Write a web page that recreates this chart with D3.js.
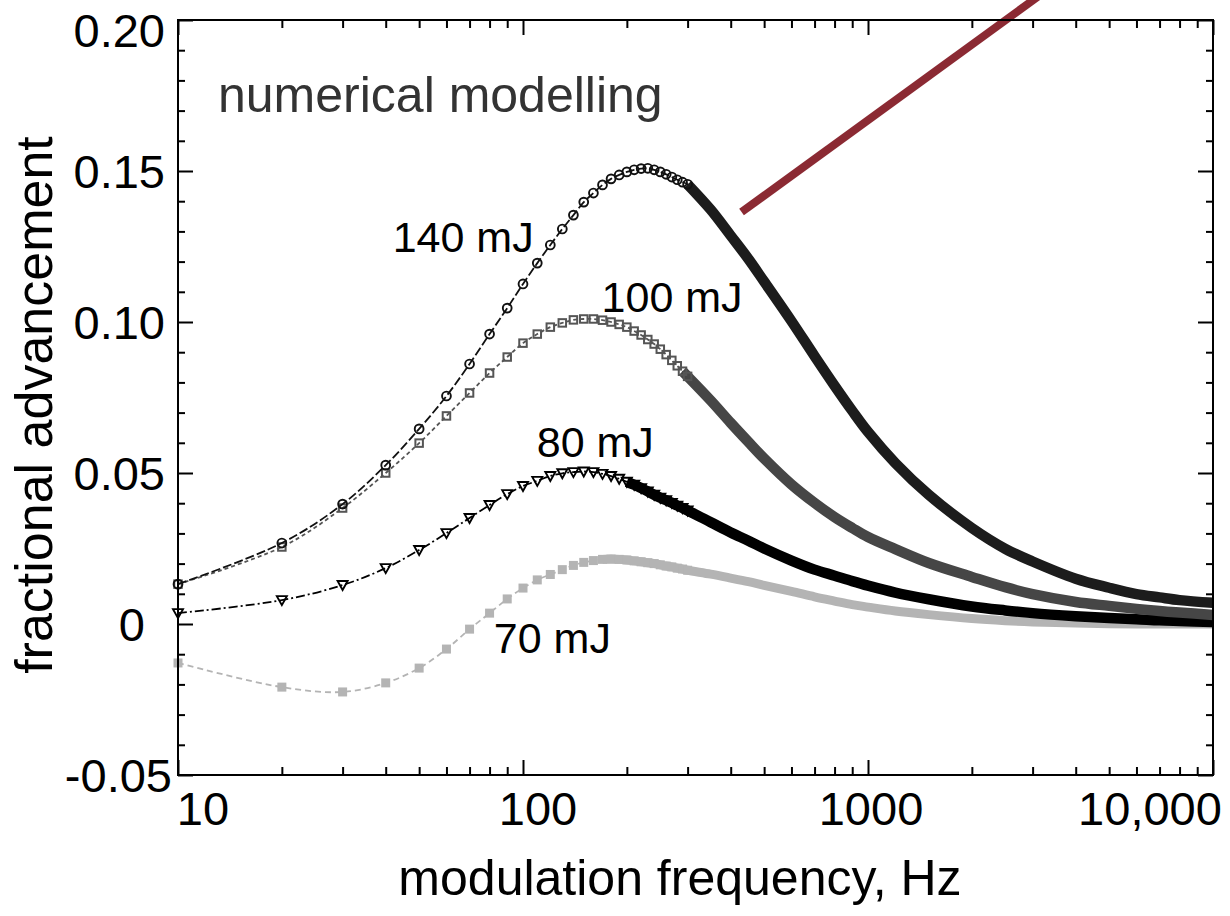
<!DOCTYPE html>
<html>
<head>
<meta charset="utf-8">
<script src="https://cdn.jsdelivr.net/npm/d3@7"></script>
<style>
  body { margin: 0; background: #fff; }
  text { font-family: "Liberation Sans", Arial, Helvetica, sans-serif; }
</style>
</head>
<body>
<div id="svg_placer"></div>
<script>
var
width = 1230,
height = 916,
left = 178, right = 1213,
top_ = 20, bottom = 775
;

// modulation frequency, Hz
var freqs = [10,20,30,40,50,60,70,80,90,100,
  110,120,130,140,150,160,170,180,190,200,
  210,220,230,240,250,260,270,280,290,300,
  350,400,450,500,600,700,800,900,1000,1200,
  1500,2000,2500,3000,4000,5000,6000,7000,8000,10000];

// fractional advancement, one list per pulse energy
var mj140 = [0.0132,0.0268,0.0397,0.0526,0.0646,0.0755,0.0861,0.0960,0.1046,0.1126,
  0.1195,0.1255,0.1308,0.1354,0.1397,0.1427,0.1454,0.1474,0.1487,0.1497,
  0.1504,0.1508,0.1509,0.1504,0.1497,0.1489,0.1480,0.1471,0.1463,0.1456,
  0.1372,0.1286,0.1209,0.1134,0.1003,0.0887,0.0789,0.0706,0.0636,0.0533,
  0.0428,0.0318,0.0249,0.0207,0.0150,0.0120,0.0099,0.0088,0.0079,0.0070];

var mj100 = [0.0132,0.0255,0.0384,0.0500,0.0599,0.0689,0.0765,0.0831,0.0884,0.0930,
  0.0960,0.0983,0.0997,0.1007,0.1010,0.1010,0.1006,0.1000,0.0992,0.0983,
  0.0970,0.0957,0.0942,0.0927,0.0910,0.0892,0.0873,0.0855,0.0837,0.0820,
  0.0740,0.0666,0.0603,0.0548,0.0462,0.0401,0.0354,0.0318,0.0288,0.0248,
  0.0202,0.0156,0.0122,0.0099,0.0073,0.0060,0.0050,0.0043,0.0038,0.0030];

var mj80 = [0.0036,0.0079,0.0129,0.0185,0.0245,0.0301,0.0351,0.0394,0.0430,0.0457,
  0.0474,0.0490,0.0499,0.0503,0.0505,0.0503,0.0497,0.0490,0.0481,0.0471,
  0.0461,0.0450,0.0439,0.0428,0.0418,0.0410,0.0401,0.0392,0.0384,0.0376,
  0.0337,0.0303,0.0276,0.0250,0.0210,0.0180,0.0160,0.0142,0.0127,0.0104,
  0.0082,0.0058,0.0045,0.0036,0.0026,0.0020,0.0016,0.0012,0.0010,0.0007];

var mj70 = [-0.0129,-0.0209,-0.0225,-0.0195,-0.0146,-0.0083,-0.0017,0.0036,0.0083,0.0119,
  0.0146,0.0164,0.0180,0.0194,0.0204,0.0210,0.0214,0.0215,0.0214,0.0212,
  0.0209,0.0206,0.0203,0.0200,0.0196,0.0192,0.0189,0.0185,0.0182,0.0178,
  0.0165,0.0152,0.0140,0.0128,0.0108,0.0090,0.0076,0.0064,0.0056,0.0043,
  0.0031,0.0018,0.0011,0.0007,0.0003,0.0001,0.0000,0.0000,0.0000,0.0000];

var seriesNames = ['70 mJ','80 mJ','100 mJ','140 mJ'];
var yTickLabels = ['-0.05','0','0.05','0.10','0.15','0.20'];
var xTickLabels = ['10','100','1000','10,000'];

// label anchors in data space [freq, value]
var labelAt = {'140 mJ':[41.9,0.1232], '100 mJ':[169,0.1033], '80 mJ':[109.6,0.0553], '70 mJ':[82.3,-0.0096]};
var noteAt = [13.06,0.1695];
var pointerLine = [[430,0.1364],[3300,0.2099]];

var styles = {
  '140 mJ': {vals: mj140, color:'#111', band:'#1c1c1c', dash:'9,3', marker:'circle', bandFrom:300},
  '100 mJ': {vals: mj100, color:'#555', band:'#464646', dash:'4,3', marker:'square', bandFrom:290},
  '80 mJ':  {vals: mj80,  color:'#000', band:'#000',    dash:'9,3,2,3', marker:'triangle', bandFrom:200},
  '70 mJ':  {vals: mj70,  color:'#b4b4b4', band:'#b4b4b4', dash:'6,4', marker:'fsquare', bandFrom:170}
};

var x = d3.scaleLog().domain([10,10000]).range([left,right]);
var y = d3.scaleLinear().domain([-0.05,0.20]).range([bottom,top_]);

var svg = d3.select('#svg_placer').append('svg').attr('width',width).attr('height',height);

var line = d3.line()
    .x(function(d){return x(d[0]);})
    .y(function(d){return y(d[1]);})
    .curve(d3.curveCatmullRom.alpha(0.5));

var plot = svg.append('g');

seriesNames.forEach(function(name){
    var s = styles[name];
    var pts = freqs.map(function(f,i){return [f, s.vals[i]];});

    plot.append('path').datum(pts)
	.attr('d',line)
	.attr('fill','none')
	.attr('stroke',s.color)
	.attr('stroke-width',1.8)
	.attr('stroke-dasharray',s.dash);

    plot.append('path').datum(pts.filter(function(p){return p[0] >= s.bandFrom;}))
	.attr('d',line)
	.attr('fill','none')
	.attr('stroke',s.band)
	.attr('stroke-width',name == '70 mJ' ? 9 : 10.5);

    var g = plot.append('g');
    var mk = pts.filter(function(p){return p[0] <= 300;});
    if (s.marker == 'circle'){
	g.selectAll('circle').data(mk).enter().append('circle')
	    .attr('cx',function(d){return x(d[0]);})
	    .attr('cy',function(d){return y(d[1]);})
	    .attr('r',4.4)
	    .attr('fill','none').attr('stroke',s.color).attr('stroke-width',1.9);
    }
    else if (s.marker == 'square' || s.marker == 'fsquare'){
	var sz = s.marker == 'square' ? 7.5 : 9;
	g.selectAll('rect').data(mk).enter().append('rect')
	    .attr('x',function(d){return x(d[0])-sz/2;})
	    .attr('y',function(d){return y(d[1])-sz/2;})
	    .attr('width',sz).attr('height',sz)
	    .attr('fill',s.marker == 'fsquare' ? s.color : 'none')
	    .attr('stroke',s.marker == 'fsquare' ? 'none' : s.color)
	    .attr('stroke-width',2);
    }
    else {
	g.selectAll('path').data(mk).enter().append('path')
	    .attr('d',function(d){
		var cx = x(d[0]), cy = y(d[1]);
		return 'M'+(cx-5)+','+(cy-4)+'L'+(cx+5)+','+(cy-4)+'L'+cx+','+(cy+5)+'Z';
	    })
	    .attr('fill','none').attr('stroke',s.color).attr('stroke-width',1.9);
    }
});

// pointer line to the inset (runs past the frame)
svg.append('line')
    .attr('x1',x(pointerLine[0][0])).attr('y1',y(pointerLine[0][1]))
    .attr('x2',x(pointerLine[1][0])).attr('y2',y(pointerLine[1][1]))
    .attr('stroke','#8b2a33').attr('stroke-width',8);

// axes: ticks point inward on all four sides
var minorX = x.ticks().filter(function(t){return Math.abs(Math.log10(t) % 1) > 1e-6;});
var majorX = [10,100,1000,10000];
var majorY = d3.range(-0.05,0.2001,0.05);
var minorY = d3.range(-0.04,0.2,0.01).filter(function(v){return Math.abs(Math.round(v*100) % 5) != 0;});

function ax(gen, vals, size, tr){
    var a = svg.append('g').attr('transform',tr)
	.call(gen.tickValues(vals).tickSize(size).tickSizeOuter(0).tickFormat(''));
    a.select('.domain').remove();
    a.selectAll('line').attr('stroke','#000').attr('stroke-width',2);
}
ax(d3.axisBottom(x), minorX, -8, 'translate(0,'+bottom+')');
ax(d3.axisBottom(x), majorX, -15, 'translate(0,'+bottom+')');
ax(d3.axisTop(x), minorX, -8, 'translate(0,'+top_+')');
ax(d3.axisTop(x), majorX, -15, 'translate(0,'+top_+')');
ax(d3.axisLeft(y), minorY, -7, 'translate('+left+',0)');
ax(d3.axisLeft(y), majorY, -15, 'translate('+left+',0)');
ax(d3.axisRight(y), minorY, -7, 'translate('+right+',0)');
ax(d3.axisRight(y), majorY, -15, 'translate('+right+',0)');

svg.append('rect')
    .attr('x',left).attr('y',top_).attr('width',right-left).attr('height',bottom-top_)
    .attr('fill','none').attr('stroke','#000').attr('stroke-width',2);

// tick labels
var yShiftX = {'0':-20, '-0.05':7};
var yShiftY = {'0.20':10};
svg.append('g').selectAll('text').data(majorY).enter().append('text')
    .attr('x',function(d,i){return 165 + (yShiftX[yTickLabels[i]] || 0);})
    .attr('y',function(d,i){return y(d) + (yShiftY[yTickLabels[i]] || 0);})
    .attr('dy','0.36em')
    .attr('text-anchor','end')
    .attr('font-size',47)
    .text(function(d,i){return yTickLabels[i];});

var xShift = [25,15,3,-63];
svg.append('g').selectAll('text').data(majorX).enter().append('text')
    .attr('x',function(d,i){return x(d) + xShift[i];})
    .attr('y',825)
    .attr('text-anchor','middle')
    .attr('font-size',47)
    .text(function(d,i){return xTickLabels[i];});

svg.append('text')
    .attr('x',680).attr('y',895)
    .attr('text-anchor','middle')
    .attr('font-size',50)
    .text('modulation frequency, Hz');

svg.append('text')
    .attr('transform','translate(52,405) rotate(-90)')
    .attr('text-anchor','middle')
    .attr('font-size',52)
    .text('fractional advancement');

svg.append('text')
    .attr('x',x(noteAt[0])).attr('y',y(noteAt[1]))
    .attr('font-size',50)
    .attr('fill','#333')
    .text('numerical modelling');

seriesNames.forEach(function(name){
    svg.append('text')
	.attr('x',x(labelAt[name][0])).attr('y',y(labelAt[name][1]))
	.attr('font-size',43)
	.text(name);
});
</script>
</body>
</html>
